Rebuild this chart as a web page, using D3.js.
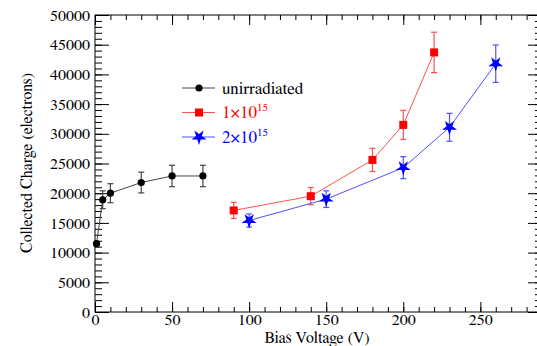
<!DOCTYPE html>
<html>
<head>
<meta charset="utf-8">
<script src="https://cdn.jsdelivr.net/npm/d3@7"></script>
<style>
  body { margin: 0; background: #fff; }
</style>
</head>
<body>
<div id="chart"></div>
<script>
// data
const unirrVoltage = [1, 5, 10, 30, 50, 70];
const unirrCharge = [11500, 18900, 20000, 21800, 22900, 22900];
const unirrErr = [300, 1500, 1600, 1750, 1800, 1800];

const fluence1Voltage = [90, 140, 180, 200, 220];
const fluence1Charge = [17100, 19500, 25600, 31500, 43700];
const fluence1Err = [1350, 1450, 1950, 2450, 3400];

const fluence2Voltage = [100, 150, 200, 230, 260];
const fluence2Charge = [15400, 19000, 24300, 31100, 41800];
const fluence2Err = [1100, 1400, 1850, 2350, 3150];

const xTicks = [0, 50, 100, 150, 200, 250];
const yTicks = [0, 5000, 10000, 15000, 20000, 25000, 30000, 35000, 40000, 45000, 50000];

const width = 537, height = 346;
const margin = { left: 95, top: 15, right: -5, bottom: 34 };
const serif = 'FreeSerif';

const svg = d3.select('#chart').append('svg')
  .attr('width', width)
  .attr('height', height);

const x = d3.scaleLinear().domain([0, 290]).range([margin.left, width - margin.right]);
const y = d3.scaleLinear().domain([0, 50000]).range([height - margin.bottom, margin.top]);

// frame
svg.append('rect')
  .attr('x', x(0)).attr('y', y(50000))
  .attr('width', x(290) - x(0)).attr('height', y(0) - y(50000))
  .attr('fill', 'none').attr('stroke', '#000').attr('stroke-width', 1);

// axes, ROOT style with ticks on all four sides
const axisStyle = g => {
  g.attr('font-family', serif).attr('font-size', 16);
  g.select('.domain').remove();
  g.selectAll('text').attr('font-family', serif).attr('fill', '#000');
  g.selectAll('line').attr('stroke', '#000');
};

svg.append('g')
  .attr('transform', 'translate(0,' + y(0) + ')')
  .call(d3.axisTop(x).tickValues(d3.range(0, 291, 10)).tickSize(5).tickFormat(''))
  .call(axisStyle);
svg.append('g')
  .attr('transform', 'translate(0,' + y(0) + ')')
  .call(d3.axisTop(x).tickValues(xTicks).tickSize(10).tickFormat(''))
  .call(axisStyle);
svg.append('g')
  .attr('transform', 'translate(0,' + y(0) + ')')
  .call(d3.axisBottom(x).tickValues(xTicks).tickSize(0).tickPadding(2).tickFormat(d3.format('d')))
  .call(axisStyle);

svg.append('g')
  .attr('transform', 'translate(0,' + y(50000) + ')')
  .call(d3.axisBottom(x).tickValues(d3.range(0, 291, 10)).tickSize(5).tickFormat(''))
  .call(axisStyle);
svg.append('g')
  .attr('transform', 'translate(0,' + y(50000) + ')')
  .call(d3.axisBottom(x).tickValues(xTicks).tickSize(10).tickFormat(''))
  .call(axisStyle);

svg.append('g')
  .attr('transform', 'translate(' + x(0) + ',0)')
  .call(d3.axisRight(y).tickValues(d3.range(0, 50001, 1000)).tickSize(7).tickFormat(''))
  .call(axisStyle);
svg.append('g')
  .attr('transform', 'translate(' + x(0) + ',0)')
  .call(d3.axisRight(y).tickValues(yTicks).tickSize(14).tickFormat(''))
  .call(axisStyle);
svg.append('g')
  .attr('transform', 'translate(' + x(0) + ',0)')
  .call(d3.axisLeft(y).tickValues(yTicks).tickSize(0).tickPadding(5).tickFormat(d3.format('d')))
  .call(axisStyle);

svg.append('g')
  .attr('transform', 'translate(' + x(290) + ',0)')
  .call(d3.axisLeft(y).tickValues(d3.range(0, 50001, 1000)).tickSize(7).tickFormat(''))
  .call(axisStyle);
svg.append('g')
  .attr('transform', 'translate(' + x(290) + ',0)')
  .call(d3.axisLeft(y).tickValues(yTicks).tickSize(14).tickFormat(''))
  .call(axisStyle);

// axis titles
svg.append('text')
  .attr('x', 317).attr('y', 343)
  .attr('text-anchor', 'middle')
  .attr('font-family', serif).attr('font-size', 16)
  .text('Bias Voltage (V)');

svg.append('text')
  .attr('transform', 'translate(32,' + 163 + ') rotate(-90)')
  .attr('text-anchor', 'middle')
  .attr('font-family', serif).attr('font-size', 16)
  .text('Collected Charge (electrons)');

// series
const series = [
  { v: unirrVoltage, q: unirrCharge, e: unirrErr, line: '#444', mark: '#000', symbol: 'circle' },
  { v: fluence1Voltage, q: fluence1Charge, e: fluence1Err, line: '#ff5050', mark: '#ff0000', symbol: 'square' },
  { v: fluence2Voltage, q: fluence2Charge, e: fluence2Err, line: '#5050ff', mark: '#0000ff', symbol: 'star' }
];

const drawMarker = (g, s, cx, cy) => {
  if (s.symbol === 'circle') {
    g.append('circle').attr('cx', cx).attr('cy', cy).attr('r', 3.6).attr('fill', s.mark);
  } else if (s.symbol === 'square') {
    g.append('rect').attr('x', cx - 4).attr('y', cy - 4).attr('width', 8).attr('height', 8).attr('fill', s.mark);
  } else {
    g.append('path')
      .attr('d', d3.symbol().type(d3.symbolStar).size(70)())
      .attr('transform', 'translate(' + cx + ',' + cy + ') rotate(180)')
      .attr('fill', s.mark);
  }
};

series.forEach(s => {
  const pts = s.v.map((v, i) => ({ v: v, q: s.q[i], e: s.e[i] }));
  const g = svg.append('g');

  g.append('path')
    .datum(pts)
    .attr('fill', 'none')
    .attr('stroke', s.line)
    .attr('stroke-width', 1)
    .attr('d', d3.line().x(d => x(d.v)).y(d => y(d.q)));

  pts.forEach(d => {
    const cx = x(d.v);
    g.append('line')
      .attr('x1', cx).attr('x2', cx)
      .attr('y1', y(d.q - d.e)).attr('y2', y(d.q + d.e))
      .attr('stroke', s.line).attr('stroke-width', 1.2);
    [d.q - d.e, d.q + d.e].forEach(c => {
      g.append('line')
        .attr('x1', cx - 3).attr('x2', cx + 3)
        .attr('y1', y(c)).attr('y2', y(c))
        .attr('stroke', s.line).attr('stroke-width', 1.2);
    });
    drawMarker(g, s, cx, y(d.q));
  });
});

// legend
const legendRows = [
  { s: series[0], label: 'unirradiated', sup: '', color: '#000' },
  { s: series[1], label: '1\u00d710', sup: '15', color: '#ff0000' },
  { s: series[2], label: '2\u00d710', sup: '15', color: '#0000ff' }
];

legendRows.forEach((r, i) => {
  const ly = 88 + i * 24.5;
  svg.append('line')
    .attr('x1', 182).attr('x2', 215)
    .attr('y1', ly).attr('y2', ly)
    .attr('stroke', r.s.line).attr('stroke-width', 1);
  drawMarker(svg, r.s, 199, ly);
  const t = svg.append('text')
    .attr('x', 222).attr('y', ly + 5.5)
    .attr('fill', r.color)
    .attr('font-family', serif).attr('font-size', 17)
    .text(r.label);
  if (r.sup) {
    t.append('tspan').attr('dy', -7).attr('font-size', 11).text(r.sup);
  }
});
</script>
</body>
</html>
